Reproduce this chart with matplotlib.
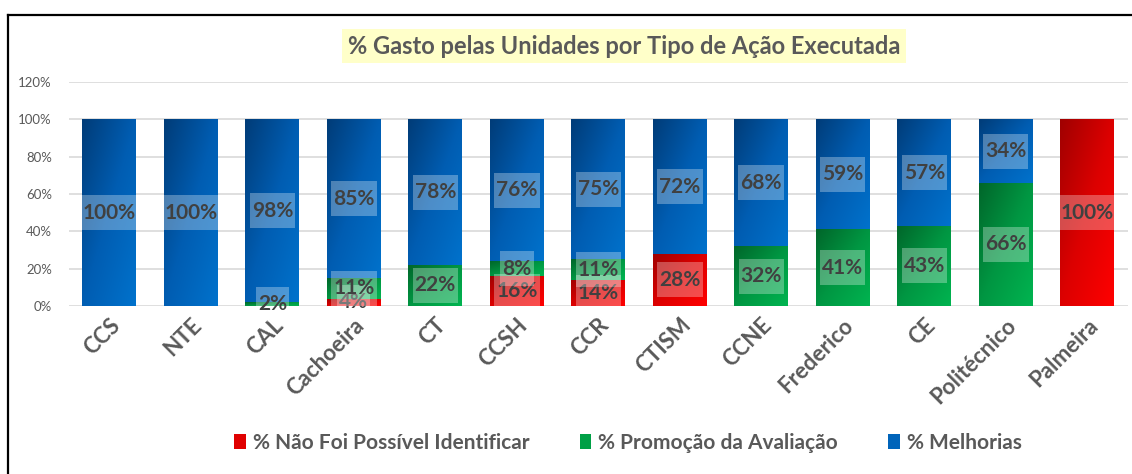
import numpy as np
import matplotlib
matplotlib.use("Agg")
import matplotlib.pyplot as plt
from matplotlib.colors import LinearSegmentedColormap
from matplotlib.patches import Patch
from matplotlib.lines import Line2D
from matplotlib.path import Path
from matplotlib.ticker import FuncFormatter

# ---- data ----
categories = ["CCS", "NTE", "CAL", "Cachoeira", "CT", "CCSH", "CCR", "CTISM",
              "CCNE", "Frederico", "CE", "Politécnico", "Palmeira"]
nao_identificar = [0, 0, 0, 4, 0, 16, 14, 28, 0, 0, 0, 0, 100]
promocao = [0, 0, 2, 11, 22, 8, 11, 0, 32, 41, 43, 66, 0]
melhorias = [100, 100, 98, 85, 78, 76, 75, 72, 68, 59, 57, 34, 0]
series_names = ["% Não Foi Possível Identificar", "% Promoção da Avaliação", "% Melhorias"]
title = "% Gasto pelas Unidades por Tipo de Ação Executada"

FONT = ["Lato", "DejaVu Sans"]
plt.rcParams["font.family"] = FONT

grad_stops = {
    "red": ["#A00000", "#DC0000", "#FF0000"],
    "green": ["#00662A", "#009642", "#00B450"],
    "blue": ["#003C78", "#005DB2", "#0072CC"],
}
legend_colors = ["#E00000", "#00A046", "#0064BA"]
series_keys = ["red", "green", "blue"]


def tall_box(x0, y0, width, height, mutation_size):
    """Label box with small horizontal and larger vertical padding."""
    px = 0.10 * mutation_size
    py = 0.36 * mutation_size
    x0, y0 = x0 - px, y0 - py
    x1, y1 = x0 + width + 2 * px, y0 + height + 2 * py
    return Path([(x0, y0), (x1, y0), (x1, y1), (x0, y1), (x0, y0)],
                [Path.MOVETO, Path.LINETO, Path.LINETO, Path.LINETO, Path.CLOSEPOLY])


W, H = 1132, 474
fig = plt.figure(figsize=(W / 100, H / 100), dpi=100)
ax = fig.add_axes([68.6 / W, 1 - 306 / H, (1128 - 68.6) / W, (306 - 82) / H])

x = np.arange(len(categories))
width = 0.66
vals = [np.array(nao_identificar) / 100, np.array(promocao) / 100, np.array(melhorias) / 100]

ax.set_xlim(-0.5, len(categories) - 0.5)
ax.set_ylim(0, 1.2)

u = np.linspace(0, 1, 80)[None, :]
v = np.linspace(0, 1, 80)[:, None]
tgrid = (u + v) / 2

bottom = np.zeros(len(categories))
for vs, key in zip(vals, series_keys):
    cmap = LinearSegmentedColormap.from_list(key, grad_stops[key])
    bars = ax.bar(x, vs, width, bottom=bottom, color=grad_stops[key][1],
                  edgecolor="none", zorder=2)
    for rect, val in zip(bars, vs):
        if val <= 0:
            continue
        rx, ry, rw, rh = rect.get_x(), rect.get_y(), rect.get_width(), rect.get_height()
        im = ax.imshow(tgrid, cmap=cmap, vmin=0, vmax=1, extent=(rx, rx + rw, ry, ry + rh),
                       origin="upper", aspect="auto", zorder=2.5, interpolation="bilinear")
        im.set_clip_path(rect)
    bottom = bottom + vs

# data labels
bottom = np.zeros(len(categories))
for vs in vals:
    for i, val in enumerate(vs):
        if val > 0:
            ax.text(x[i], bottom[i] + val / 2, f"{val * 100:.0f}%", ha="center", va="center",
                    fontsize=15, fontweight="bold", color="#404040", zorder=5,
                    bbox=dict(boxstyle=tall_box, facecolor="white", alpha=0.3,
                              edgecolor="none"))
    bottom = bottom + vs

ax.set_xlim(-0.5, len(categories) - 0.5)
ax.set_ylim(0, 1.2)

# axes styling
ax.set_yticks(np.arange(0, 1.21, 0.2))
ax.yaxis.set_major_formatter(FuncFormatter(lambda y, _: f"{y * 100:.0f}%"))
ax.grid(axis="y", color="#D9D9D9", linewidth=1.2, zorder=0)
ax.set_axisbelow(True)
for s in ax.spines.values():
    s.set_visible(False)
ax.tick_params(axis="y", length=0, pad=12, labelsize=9.5, labelcolor="#595959")
ax.tick_params(axis="x", length=0, pad=6)
ax.set_xticks(x)
ax.set_xticklabels(categories, rotation=45, ha="right", va="top", rotation_mode="anchor",
                   fontsize=16, fontweight="bold", color="#595959")

# title
fig.text(624 / W, 1 - 46 / H, title, ha="center", va="center", fontsize=17,
         fontweight="bold", color="#595959",
         bbox=dict(boxstyle="square,pad=0.25", facecolor="#FFFFC9", edgecolor="none"))

# legend
handles = [Patch(facecolor=c, edgecolor="none") for c in legend_colors]
fig.legend(handles, series_names, loc="center", bbox_to_anchor=(628 / W, 1 - 443 / H),
           ncol=3, frameon=False, handlelength=0.55, handleheight=0.7, handletextpad=0.35,
           columnspacing=2.4, prop=dict(size=15, weight="bold"), labelcolor="#595959")

# frame lines (screenshot border)
fig.add_artist(Line2D([8 / W, 1.0], [1 - 15 / H, 1 - 15 / H], color="black", linewidth=1.6,
                      transform=fig.transFigure))
fig.add_artist(Line2D([8 / W, 8 / W], [1 - 15 / H, 0.0], color="black", linewidth=1.6,
                      transform=fig.transFigure))

fig.savefig("out.png", dpi=100)
